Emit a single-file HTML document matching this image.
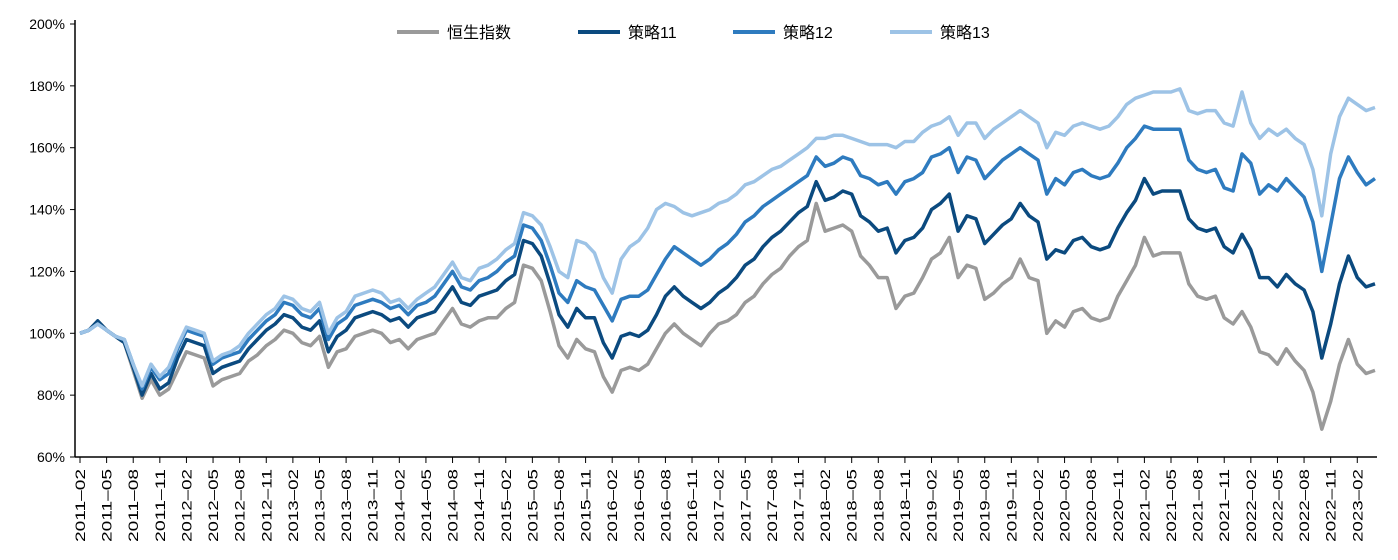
<!DOCTYPE html>
<html><head><meta charset="utf-8"><style>
body{margin:0;background:#fff;}
svg text{font-family:"Liberation Sans","Noto Sans CJK SC",sans-serif;fill:#000;}
</style></head><body>
<svg id="chart" width="1398" height="555"></svg>
<script>
const startYear = 2011, startMonth = 2;
const hsi = [100,101,104,101,99,97,88,79,85,80,82,
88,94,93,92,83,85,86,87,91,93,96,98,
101,100,97,96,99,89,94,95,99,100,101,100,
97,98,95,98,99,100,104,108,103,102,104,105,
105,108,110,122,121,117,107,96,92,98,95,94,
86,81,88,89,88,90,95,100,103,100,98,96,
100,103,104,106,110,112,116,119,121,125,128,130,
142,133,134,135,133,125,122,118,118,108,112,113,
118,124,126,131,118,122,121,111,113,116,118,124,
118,117,100,104,102,107,108,105,104,105,112,117,
122,131,125,126,126,126,116,112,111,112,105,103,
107,102,94,93,90,95,91,88,81,69,78,90,
98,90,87,88];
const s11 = [100,101,104,101,99,97,89,80,87,82,84,
92,98,97,96,87,89,90,91,95,98,101,103,
106,105,102,101,104,94,99,101,105,106,107,106,
104,105,102,105,106,107,111,115,110,109,112,113,
114,117,119,130,129,125,116,106,102,108,105,105,
97,92,99,100,99,101,106,112,115,112,110,108,
110,113,115,118,122,124,128,131,133,136,139,141,
149,143,144,146,145,138,136,133,134,126,130,131,
134,140,142,145,133,138,137,129,132,135,137,142,
138,136,124,127,126,130,131,128,127,128,134,139,
143,150,145,146,146,146,137,134,133,134,128,126,
132,127,118,118,115,119,116,114,107,92,103,116,
125,118,115,116];
const s12 = [100,101,103,101,99,98,90,82,89,85,87,
95,101,100,99,90,92,93,94,98,101,104,106,
110,109,106,105,108,98,103,105,109,110,111,110,
108,109,106,109,110,112,116,120,115,114,117,118,
120,123,125,135,134,130,122,113,110,117,115,114,
109,104,111,112,112,114,119,124,128,126,124,122,
124,127,129,132,136,138,141,143,145,147,149,151,
157,154,155,157,156,151,150,148,149,145,149,150,
152,157,158,160,152,157,156,150,153,156,158,160,
158,156,145,150,148,152,153,151,150,151,155,160,
163,167,166,166,166,166,156,153,152,153,147,146,
158,155,145,148,146,150,147,144,136,120,135,150,
157,152,148,150];
const s13 = [100,101,103,101,99,98,90,83,90,86,89,
96,102,101,100,91,93,94,96,100,103,106,108,
112,111,108,107,110,100,105,107,112,113,114,113,
110,111,108,111,113,115,119,123,118,117,121,122,
124,127,129,139,138,135,128,120,118,130,129,126,
118,113,124,128,130,134,140,142,141,139,138,139,
140,142,143,145,148,149,151,153,154,156,158,160,
163,163,164,164,163,162,161,161,161,160,162,162,
165,167,168,170,164,168,168,163,166,168,170,172,
170,168,160,165,164,167,168,167,166,167,170,174,
176,177,178,178,178,179,172,171,172,172,168,167,
178,168,163,166,164,166,163,161,153,138,158,170,
176,174,172,173];
const seriesNames = ["恒生指数","策略11","策略12","策略13"];
const yTicks = [60,80,100,120,140,160,180,200];

const NS="http://www.w3.org/2000/svg";
const svg=document.getElementById('chart');
const X0=80, MONTH=8.87, Y0=457, YPX=433/140;
function xs(i){return X0+i*MONTH;}
function ys(v){return Y0-(v-60)*YPX;}
function mk(t,a){const e=document.createElementNS(NS,t);for(const k in a)e.setAttribute(k,a[k]);svg.appendChild(e);return e;}

let ax=mk('line',{x1:75,y1:20,x2:75,y2:457,stroke:'#000','stroke-width':1.5});


let bx=mk('line',{x1:75,y1:457,x2:1377,y2:457,stroke:'#000','stroke-width':1.5});


yTicks.forEach(v=>{
  const y=ys(v);
  const tk=mk('line',{x1:70,y1:y,x2:75,y2:y,stroke:'#000','stroke-width':1});
  
  
  const t=mk('text',{x:65,y:y+5,'text-anchor':'end','font-size':14});
  t.textContent=v+'%';
  
  
});
for(let i=0;i<hsi.length;i+=3){
  const x=xs(i);
  const tk=mk('line',{x1:x,y1:457,x2:x,y2:463,stroke:'#000','stroke-width':1});
  
  
  const m=startMonth-1+i, yr=startYear+Math.floor(m/12), mo=m%12+1;
  const t=mk('text',{x:0,y:0,'text-anchor':'end','font-size':14,textLength:73,lengthAdjust:'spacingAndGlyphs',transform:`translate(${x+5},469) rotate(-90)`});
  t.textContent=yr+'–'+String(mo).padStart(2,'0');
  
  
}
const colors=['#9a9a9a','#0b4a7f','#2e7bbf','#9dc3e6'];
const data=[hsi,s11,s12,s13];
const lineNames=['hsi-line','strategy11-line','strategy12-line','strategy13-line'];
data.forEach((arr,k)=>{
  const d=arr.map((v,i)=>(i?'L':'M')+xs(i).toFixed(1)+','+ys(v).toFixed(1)).join('');
  const p=mk('path',{d:d,fill:'none',stroke:colors[k],'stroke-width':3.5,'stroke-linejoin':'round'});
  
  
});
const legX=[397,578,733,890];
seriesNames.forEach((n,k)=>{
  const l=mk('line',{x1:legX[k],y1:32,x2:legX[k]+42,y2:32,stroke:colors[k],'stroke-width':4});
  
  
  const t=mk('text',{x:legX[k]+50,y:38,'font-size':16});
  t.textContent=n;
  
  
});
</script>
</body></html>
